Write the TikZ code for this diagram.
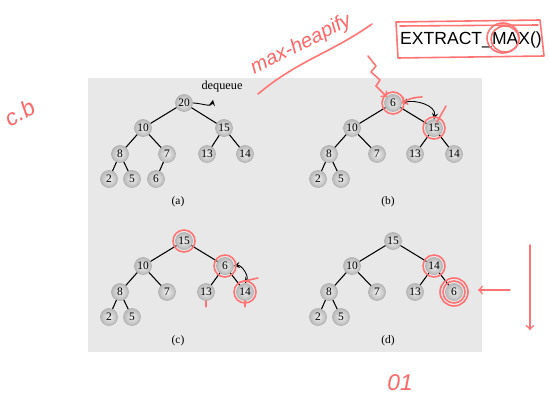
\documentclass[tikz,border=0pt]{standalone}
\usepackage{fontspec}
\setmainfont{Liberation Serif}
\newfontfamily\handfont{Liberation Sans}
\usetikzlibrary{calc}
\tikzset{
  heapnode/.style={circle, shading=radial, inner color=gray!12, outer color=gray!55,
    draw=gray!60, line width=0.4pt,
    minimum size=0.34cm, inner sep=0pt, font=\fontsize{6.5}{7}\selectfont},
  heapedge/.style={line width=0.6pt},
  swaparrow/.style={<->, >=stealth, line width=0.5pt},
  redmark/.style={draw=red!55, line width=0.9pt, line cap=round, line join=round},
  redtext/.style={text=red!60, font=\handfont\itshape},
  caption/.style={font=\fontsize{6.5}{7}\selectfont}
}

\begin{document}
\begin{tikzpicture}[x=0.02cm, y=-0.02cm]
			%%%%% START %%%%%
			\useasboundingbox (0, 0) rectangle (550, 402);
			\fill[white] (0, 0) rectangle (550, 402);
			\fill[gray!18] (88, 78) rectangle (482, 352);
			
			% (a)
			\node[heapnode] (a20) at (184, 103) {20};
			\node[heapnode] (a10) at (143, 128) {10};
			\node[heapnode] (a15) at (224, 128) {15};
			\node[heapnode] (a8) at (120, 154) {8};
			\node[heapnode] (a7) at (167, 154) {7};
			\node[heapnode] (a13) at (207, 154) {13};
			\node[heapnode] (a14) at (245, 154) {14};
			\node[heapnode] (a2) at (109, 179) {2};
			\node[heapnode] (a5) at (132, 179) {5};
			\node[heapnode] (a6) at (156, 179) {6};
			\draw[heapedge] (a20) -- (a10);
			\draw[heapedge] (a20) -- (a15);
			\draw[heapedge] (a10) -- (a8);
			\draw[heapedge] (a10) -- (a7);
			\draw[heapedge] (a15) -- (a13);
			\draw[heapedge] (a15) -- (a14);
			\draw[heapedge] (a8) -- (a2);
			\draw[heapedge] (a8) -- (a5);
			\draw[heapedge] (a7) -- (a6);
			\node[caption] (capa) at (178, 202) {(a)};
			\node[caption, font=\fontsize{7}{8}\selectfont] (deq) at (222, 87) {dequeue};
			\draw[->, >=stealth, line width=0.5pt] (a20.east) to[out=0, in=-100] ($(deq.south)+(-9, 1)$);
			
			% (b)
			\node[heapnode] (b6) at (393, 103) {6};
			\node[heapnode] (b10) at (352, 128) {10};
			\node[heapnode] (b15) at (434, 128) {15};
			\node[heapnode] (b8) at (329, 154) {8};
			\node[heapnode] (b7) at (377, 154) {7};
			\node[heapnode] (b13) at (415, 154) {13};
			\node[heapnode] (b14) at (454, 154) {14};
			\node[heapnode] (b2) at (318, 179) {2};
			\node[heapnode] (b5) at (341, 179) {5};
			\draw[heapedge] (b6) -- (b10);
			\draw[heapedge] (b6) -- (b15);
			\draw[heapedge] (b10) -- (b8);
			\draw[heapedge] (b10) -- (b7);
			\draw[heapedge] (b15) -- (b13);
			\draw[heapedge] (b15) -- (b14);
			\draw[heapedge] (b8) -- (b2);
			\draw[heapedge] (b8) -- (b5);
			\draw[swaparrow] (b6.east) to[out=15, in=80] (b15.north);
			\node[caption] (capb) at (388, 202) {(b)};
			
			% (c)
			\node[heapnode] (c15) at (184, 241) {15};
			\node[heapnode] (c10) at (143, 266) {10};
			\node[heapnode] (c6) at (225, 266) {6};
			\node[heapnode] (c8) at (120, 292) {8};
			\node[heapnode] (c7) at (167, 292) {7};
			\node[heapnode] (c13) at (206, 292) {13};
			\node[heapnode] (c14) at (245, 292) {14};
			\node[heapnode] (c2) at (109, 317) {2};
			\node[heapnode] (c5) at (132, 317) {5};
			\draw[heapedge] (c15) -- (c10);
			\draw[heapedge] (c15) -- (c6);
			\draw[heapedge] (c10) -- (c8);
			\draw[heapedge] (c10) -- (c7);
			\draw[heapedge] (c6) -- (c13);
			\draw[heapedge] (c6) -- (c14);
			\draw[heapedge] (c8) -- (c2);
			\draw[heapedge] (c8) -- (c5);
			\draw[swaparrow] (c6.east) to[out=10, in=60] (c14.north);
			\node[caption] (capc) at (178, 341) {(c)};
			
			% (d)
			\node[heapnode] (d15) at (393, 241) {15};
			\node[heapnode] (d10) at (352, 266) {10};
			\node[heapnode] (d14) at (434, 266) {14};
			\node[heapnode] (d8) at (329, 292) {8};
			\node[heapnode] (d7) at (377, 292) {7};
			\node[heapnode] (d13) at (415, 292) {13};
			\node[heapnode] (d6) at (454, 292) {6};
			\node[heapnode] (d2) at (318, 317) {2};
			\node[heapnode] (d5) at (341, 317) {5};
			\draw[heapedge] (d15) -- (d10);
			\draw[heapedge] (d15) -- (d14);
			\draw[heapedge] (d10) -- (d8);
			\draw[heapedge] (d10) -- (d7);
			\draw[heapedge] (d14) -- (d13);
			\draw[heapedge] (d14) -- (d6);
			\draw[heapedge] (d8) -- (d2);
			\draw[heapedge] (d8) -- (d5);
			\node[caption] (capd) at (388, 341) {(d)};
			
			% red notes
			\node[font=\handfont\fontsize{10}{12}\selectfont] (xmax) at (471, 40) {EXTRACT\_MAX()};
			\draw[redmark] (396, 22) -- (540, 20) -- (544, 56) -- (398, 58) -- cycle;
			\draw[redmark] (400, 26) -- (538, 25);
			\draw[redmark] (503, 38) ellipse (16 and 15);
			\draw[redmark] (505, 39) ellipse (14 and 13);
			\node[redtext, rotate=27, font=\handfont\itshape\fontsize{11.5}{14}\selectfont] (mh) at (301, 45) {max-heapify};
			\draw[redmark] (258, 94) to[out=40, in=-145] (372, 24);
			\node[redtext, rotate=30, font=\handfont\itshape\fontsize{13}{15}\selectfont] (cb) at (20, 113) {c.b};
			\node[redtext, font=\handfont\itshape\fontsize{13}{15}\selectfont] (zo) at (400, 383) {01};
			\draw[redmark] (b6) circle (11);
			\draw[redmark] (b15) circle (11);
			\draw[redmark] (c15) circle (11);
			\draw[redmark] (c6) circle (11);
			\draw[redmark] (c14) circle (11);
			\draw[redmark] (d14) circle (11);
			\draw[redmark] (d6) circle (11);
			\draw[redmark] (d6) circle (14);
			\draw[redmark] (368, 56) -- (376, 66) -- (371, 72) -- (380, 80) -- (376, 86);
			\draw[redmark, ->] (376, 86) -- (b6.north west);
			\draw[redmark, ->] (422, 97) to[bend right=15] (b6.east);
			\draw[redmark] (446, 106) -- (437, 122);
			\draw[redmark] (c13.south) -- ++(0, 6);
			\draw[redmark] (c14.south) -- ++(0, 6);
			\draw[redmark] (240, 282) -- (258, 278);
			\coordinate (rarr) at (510, 290);
			\coordinate (rarrend) at (478, 290);
			\draw[redmark, ->] (rarr) -- (rarrend);
			\coordinate (dtop) at (530, 245);
			\coordinate (dbot) at (530, 330);
			\draw[redmark, ->] (dtop) -- (dbot);
			%%%%% END %%%%%
		\end{tikzpicture}
\end{document}
